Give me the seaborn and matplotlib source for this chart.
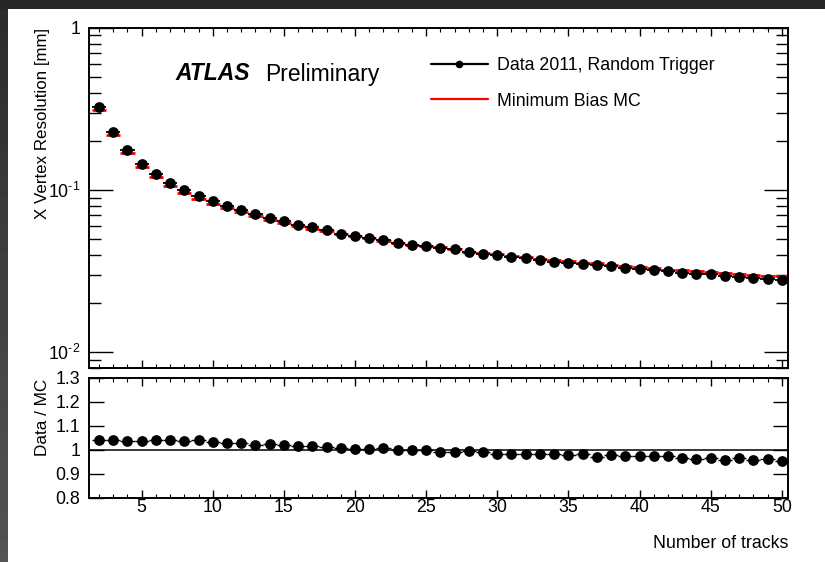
import numpy as np
import pandas as pd
import matplotlib
matplotlib.use("Agg")
import matplotlib.pyplot as plt
import seaborn as sns
from matplotlib.lines import Line2D
from matplotlib.patches import Rectangle
from matplotlib.ticker import FixedLocator, NullFormatter, LogLocator

# ---------------- data ----------------
n_tracks = list(range(2, 51))
data_res = [0.3267, 0.2291, 0.1765, 0.1453, 0.1250, 0.1110, 0.1004, 0.0922, 0.0852, 0.0796,
            0.0749, 0.0708, 0.0675, 0.0641, 0.0611, 0.0589, 0.0564, 0.0538, 0.0522, 0.0508,
            0.0491, 0.0475, 0.0462, 0.0451, 0.0440, 0.0431, 0.0416, 0.0404, 0.0397, 0.0388,
            0.0379, 0.0370, 0.0363, 0.0356, 0.0351, 0.0343, 0.0340, 0.0333, 0.0327, 0.0324,
            0.0316, 0.0310, 0.0306, 0.0302, 0.0297, 0.0293, 0.0287, 0.0285, 0.0281]
mc_res = [0.3132, 0.2203, 0.1699, 0.1398, 0.1200, 0.1067, 0.0966, 0.0887, 0.0825, 0.0772,
          0.0728, 0.0693, 0.0659, 0.0629, 0.0601, 0.0579, 0.0558, 0.0534, 0.0519, 0.0506,
          0.0487, 0.0475, 0.0462, 0.0451, 0.0444, 0.0434, 0.0418, 0.0408, 0.0404, 0.0395,
          0.0386, 0.0376, 0.0369, 0.0364, 0.0356, 0.0353, 0.0347, 0.0342, 0.0335, 0.0333,
          0.0324, 0.0321, 0.0318, 0.0313, 0.0310, 0.0303, 0.0300, 0.0296, 0.0294]
ratio = [1.043, 1.040, 1.039, 1.039, 1.042, 1.040, 1.039, 1.040, 1.033, 1.031,
         1.029, 1.021, 1.025, 1.019, 1.017, 1.017, 1.011, 1.008, 1.006, 1.003,
         1.008, 1.000, 1.001, 0.999, 0.992, 0.992, 0.996, 0.990, 0.983, 0.982,
         0.983, 0.985, 0.985, 0.978, 0.985, 0.972, 0.979, 0.975, 0.975, 0.974,
         0.974, 0.965, 0.962, 0.965, 0.958, 0.967, 0.958, 0.964, 0.956]

legend_labels = ["Data 2011, Random Trigger", "Minimum Bias MC"]
x_ticks = [5, 10, 15, 20, 25, 30, 35, 40, 45, 50]
log_ticks = [0.01, 0.1, 1]
log_tick_labels = ["$10^{\u2010 2}$", "$10^{\u2010 1}$", "1"]
ratio_ticks = [0.8, 0.9, 1.0, 1.1, 1.2, 1.3]
ratio_tick_labels = ["0.8", "0.9", "1", "1.1", "1.2", "1.3"]

df = pd.DataFrame({"n": n_tracks, "data": data_res, "mc": mc_res, "ratio": ratio})

# ---------------- style ----------------
sns.set_theme(style="ticks")
plt.rcParams["font.family"] = ["Liberation Sans", "DejaVu Sans"]
plt.rcParams["mathtext.fontset"] = "custom"
plt.rcParams["mathtext.rm"] = "Liberation Sans"
plt.rcParams["mathtext.default"] = "regular"
plt.rcParams["text.color"] = "black"
plt.rcParams["axes.labelcolor"] = "black"
plt.rcParams["xtick.color"] = "black"
plt.rcParams["ytick.color"] = "black"
FS = 12.8

W, H = 825, 562
fig = plt.figure(figsize=(W / 100, H / 100), dpi=100)
fig.patch.set_facecolor("white")

def fx(px):
    return px / W

def fy(py):
    return 1 - py / H

ax1 = fig.add_axes([fx(88.5), fy(368), fx(788) - fx(88.5), fy(28) - fy(368)])
ax2 = fig.add_axes([fx(88.5), fy(498), fx(788) - fx(88.5), fy(378) - fy(498)])

XLIM = (1.26, 50.44)

# ---------------- top panel ----------------
ax1.set_yscale("log")
ax1.errorbar(df["n"], df["mc"], xerr=0.5, fmt="none", ecolor="#ff0000", elinewidth=2.0,
             capsize=0, zorder=2)
ax1.errorbar(df["n"], df["data"], xerr=0.5, fmt="none", ecolor="black", elinewidth=1.3,
             capsize=0, zorder=3)
sns.scatterplot(data=df, x="n", y="data", ax=ax1, color="black", s=60, edgecolor="black",
                linewidth=0, zorder=4, legend=False)
ax1.set_xlim(*XLIM)
ax1.set_ylim(0.008, 1)
ax1.set_xlabel("")
ax1.set_ylabel("")

ax1.yaxis.set_major_locator(FixedLocator(log_ticks))
ax1.set_yticklabels(log_tick_labels)
ax1.yaxis.set_minor_locator(LogLocator(base=10, subs=np.arange(2, 10)))
ax1.yaxis.set_minor_formatter(NullFormatter())
ax1.xaxis.set_major_locator(FixedLocator(x_ticks))
ax1.xaxis.set_minor_locator(FixedLocator(n_tracks))
ax1.tick_params(axis="x", labelbottom=False)
ax1.tick_params(axis="both", which="both", direction="in", top=True, right=True, colors="black")
ax1.tick_params(axis="y", which="major", length=17, width=1, labelsize=FS, pad=6)
ax1.tick_params(axis="y", which="minor", length=8.5, width=1)
ax1.tick_params(axis="x", which="major", length=6, width=1)
ax1.tick_params(axis="x", which="minor", length=3.2, width=0.8)

# legend
handles = [Line2D([], [], color="black", lw=1.6, marker="o", markersize=4.5),
           Line2D([], [], color="#ff0000", lw=1.6)]
ax1.legend(handles, legend_labels, loc="upper left",
           bbox_to_anchor=((431 - 88.5) / (788 - 88.5), 1 - (57 - 28) / 340),
           frameon=False, fontsize=FS, handlelength=3.2, handletextpad=0.5,
           labelspacing=1.05, borderaxespad=0, borderpad=0)

fig.text(fx(175), fy(74), "ATLAS", fontsize=16.5, fontweight="bold", fontstyle="italic",
         ha="left", va="center", color="black")
fig.text(fx(265), fy(74), "Preliminary", fontsize=16.5, ha="left", va="center", color="black")

# ---------------- ratio panel ----------------
ax2.axhline(1.0, color="black", lw=1.1, zorder=1)
ax2.errorbar(df["n"], df["ratio"], xerr=0.5, fmt="none", ecolor="black", elinewidth=1.0,
             capsize=0, zorder=3)
sns.scatterplot(data=df, x="n", y="ratio", ax=ax2, color="black", s=60, edgecolor="black",
                linewidth=0, zorder=4, legend=False)
ax2.set_xlim(*XLIM)
ax2.set_ylim(0.8, 1.3)
ax2.set_xlabel("")
ax2.set_ylabel("")
ax2.yaxis.set_major_locator(FixedLocator(ratio_ticks))
ax2.set_yticklabels(ratio_tick_labels)
ax2.xaxis.set_major_locator(FixedLocator(x_ticks))
ax2.xaxis.set_minor_locator(FixedLocator(n_tracks))
ax2.tick_params(axis="both", which="both", direction="in", top=True, right=True, colors="black")
ax2.tick_params(axis="y", which="major", length=11, width=1, labelsize=FS, pad=6)
ax2.tick_params(axis="x", which="major", length=6, width=1, labelsize=FS, pad=1)
ax2.tick_params(axis="x", which="minor", length=3.2, width=0.8)

for ax in (ax1, ax2):
    ax.set_facecolor("white")
    for s in ax.spines.values():
        s.set_color("black")
        s.set_linewidth(1.4)

# axis titles
fig.text(fx(42.5), fy(28), "X Vertex Resolution [mm]", rotation=90, ha="center", va="top",
         fontsize=12.2, color="black")
fig.text(fx(42.5), fy(379), "Data / MC", rotation=90, ha="center", va="top", fontsize=12.3,
         color="black")
fig.text(fx(788), fy(543), "Number of tracks", ha="right", va="center", fontsize=FS,
         color="black")

# dark frame on top and left of the image
fig.patches.append(Rectangle((0, fy(9)), 1, 1 - fy(9), transform=fig.transFigure,
                             facecolor="#262626", edgecolor="none", zorder=-1))
grad_ax = fig.add_axes([0, 0, fx(7), 1], zorder=-1)
grad = np.linspace(0.17, 0.33, 100).reshape(-1, 1)
grad_ax.imshow(grad, aspect="auto", cmap="gray", vmin=0, vmax=1, origin="upper",
               extent=(0, 1, 0, 1))
grad_ax.set_axis_off()

fig.savefig("out.png", dpi=100)
